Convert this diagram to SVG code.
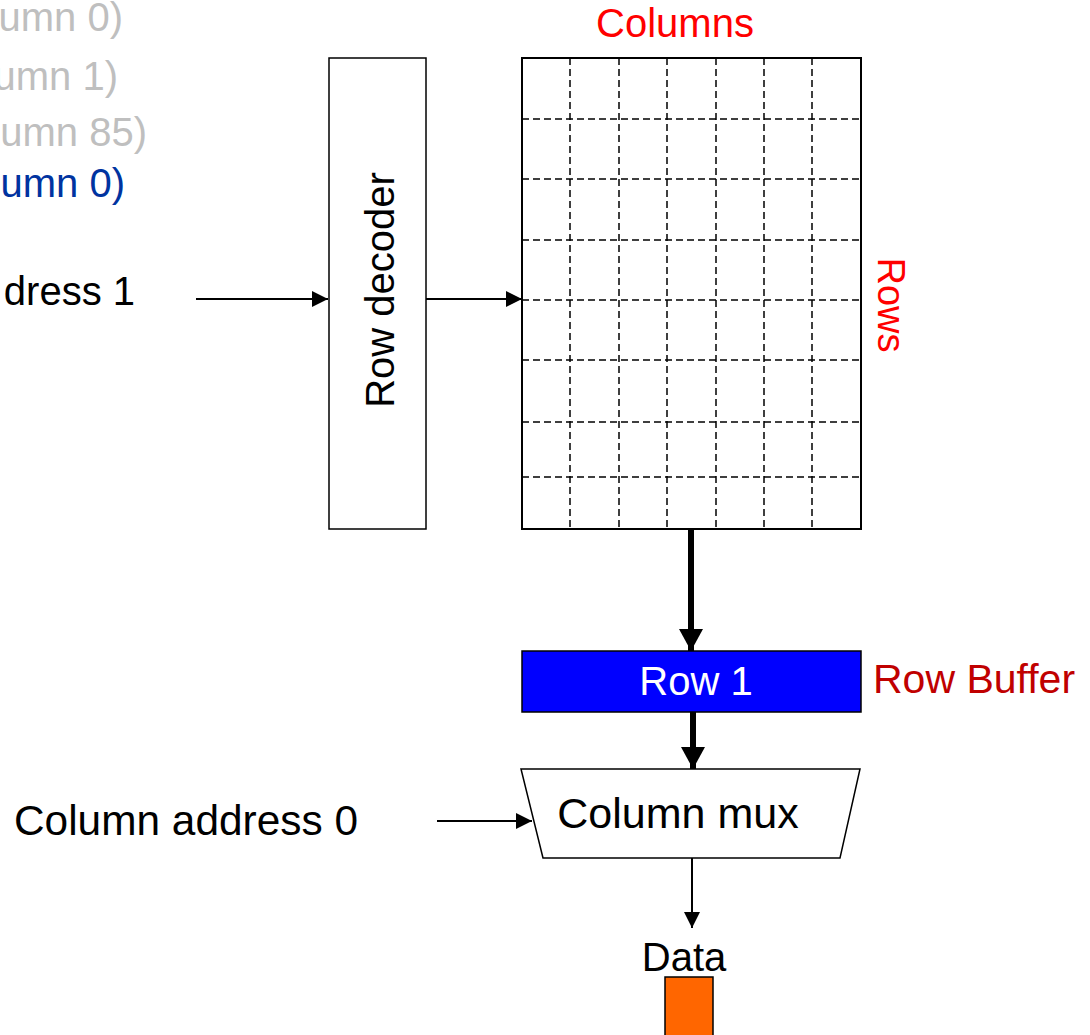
<svg xmlns="http://www.w3.org/2000/svg" width="1090" height="1035" viewBox="0 0 1090 1035">
<defs>
<style>
text{font-family:"Liberation Sans",Arial,sans-serif;}
.box{fill:#fff;stroke:#000;stroke-width:1.5;}
.grid{fill:none;stroke:#000;stroke-width:1.5;stroke-dasharray:7 4;}
.thin{stroke:#000;stroke-width:2;fill:none;}
.thick{stroke:#000;stroke-width:6;fill:none;}
.gray{fill:#BFBFBF;font-size:40px;}
</style>
<marker id="ah" markerUnits="userSpaceOnUse" markerWidth="17" markerHeight="16" refX="16" refY="8" orient="auto">
<path d="M0,0 L16,8 L0,16 Z" fill="#000"/>
</marker>
<marker id="ahT" markerUnits="userSpaceOnUse" markerWidth="24" markerHeight="24" refX="22" refY="12" orient="auto">
<path d="M0,0 L22,12 L0,24 Z" fill="#000"/>
</marker>
</defs>
<rect width="1090" height="1035" fill="#fff"/>

<g id="left-labels">
<text class="gray" x="123" y="31" text-anchor="end">umn 0)</text>
<text class="gray" x="118" y="90" text-anchor="end">umn 1)</text>
<text class="gray" x="147" y="146" text-anchor="end">umn 85)</text>
<text x="125" y="197" text-anchor="end" font-size="40" fill="#0033A0">umn 0)</text>
<text x="135" y="305" text-anchor="end" font-size="40" fill="#000">dress 1</text>
<text x="14" y="835" font-size="42" fill="#000" textLength="344" lengthAdjust="spacingAndGlyphs">Column address 0</text>
</g>

<g id="row-decoder">
<rect class="box" x="329" y="58" width="97" height="471"/>
<text transform="translate(394,290) rotate(-90)" text-anchor="middle" font-size="40" fill="#000">Row decoder</text>
</g>

<g id="array">
<rect x="522" y="58" width="339" height="471" fill="#fff" stroke="#000" stroke-width="2"/>
<path class="grid" d="M570,58V529 M619,58V529 M667,58V529 M716,58V529 M764,58V529 M812,58V529 M522,119H861 M522,179H861 M522,240H861 M522,300H861 M522,360H861 M522,422H861 M522,477H861"/>
<text x="675" y="37" text-anchor="middle" font-size="40" fill="#FF0000">Columns</text>
<text transform="translate(878,305) rotate(90)" text-anchor="middle" font-size="38" fill="#FF0000">Rows</text>
</g>

<g id="row-buffer">
<rect x="522" y="651" width="339" height="61" fill="#0000FF" stroke="#000" stroke-width="1.5"/>
<text x="696" y="695" text-anchor="middle" font-size="40" fill="#fff">Row 1</text>
<text x="873" y="693" font-size="41" fill="#C00000">Row Buffer</text>
</g>

<g id="column-mux">
<polygon class="box" points="521,769 860,769 840,858 543,858"/>
<text x="678" y="828" text-anchor="middle" font-size="43" fill="#000">Column mux</text>
</g>

<g id="data">
<text x="684" y="971" text-anchor="middle" font-size="40" fill="#000">Data</text>
<rect x="665" y="977" width="48" height="70" fill="#FF6600" stroke="#000" stroke-width="1.5"/>
</g>

<g id="connectors">
<line class="thin" x1="196" y1="299" x2="328" y2="299" marker-end="url(#ah)"/>
<line class="thin" x1="426" y1="299" x2="522" y2="299" marker-end="url(#ah)"/>
<line class="thin" x1="437" y1="821" x2="532" y2="821" marker-end="url(#ah)"/>
<line class="thin" x1="692" y1="858" x2="692" y2="928" marker-end="url(#ah)"/>
<line class="thick" x1="691" y1="529" x2="691" y2="651" marker-end="url(#ahT)"/>
<line class="thick" x1="693" y1="712" x2="693" y2="769" marker-end="url(#ahT)"/>
</g>
</svg>
